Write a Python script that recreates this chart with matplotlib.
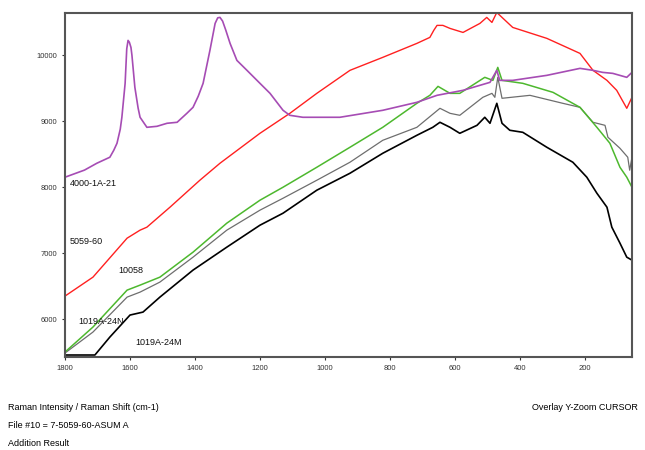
import matplotlib
matplotlib.use("Agg")
import matplotlib.pyplot as plt

plt.rcParams["font.family"] = ["Liberation Sans", "DejaVu Sans"]

# ── Spectra (Raman shift cm-1, intensity) ───────────────────────────
purple_x = [1800, 1740, 1702, 1662, 1650, 1640, 1630, 1625, 1615, 1610, 1606, 1602,
            1597, 1594, 1585, 1575, 1569, 1548, 1517, 1486, 1455, 1425, 1406, 1390,
            1375, 1354, 1338, 1330, 1323, 1315, 1305, 1292, 1271, 1240, 1200, 1169,
            1129, 1108, 1068, 954, 822, 717, 655, 575, 492, 471, 462, 422, 317, 215,
            175, 145, 114, 71, 55]
purple_y = [8152, 8260, 8364, 8455, 8560, 8667, 8880, 9061, 9576, 10100, 10227, 10200,
            10120, 10000, 9515, 9200, 9061, 8909, 8924, 8970, 8985, 9121, 9212, 9380,
            9576, 10076, 10485, 10570, 10576, 10520, 10380, 10182, 9924, 9773, 9576, 9424,
            9167, 9091, 9061, 9061, 9167, 9288, 9394, 9470, 9591, 9773, 9621, 9621,
            9697, 9803, 9773, 9742, 9727, 9667, 9742]

red_x = [1800, 1714, 1609, 1569, 1548, 1477, 1385, 1323, 1200, 1108, 1025, 923, 822,
         717, 677, 665, 655, 637, 615, 575, 523, 502, 486, 471, 455, 422, 317, 215,
         175, 132, 102, 71, 55]
red_y = [6349, 6636, 7227, 7349, 7394, 7697, 8106, 8364, 8818, 9121, 9424, 9773, 9970,
         10182, 10273, 10380, 10455, 10455, 10409, 10348, 10485, 10576, 10500, 10651,
         10576, 10424, 10258, 10030, 9773, 9621, 9470, 9197, 9364]

green_x = [1800, 1714, 1609, 1569, 1508, 1406, 1302, 1200, 1129, 1025, 923, 822, 717,
           677, 652, 615, 585, 508, 483, 468, 455, 391, 298, 215, 163, 123, 92, 71, 55]
green_y = [5500, 5879, 6439, 6515, 6636, 7015, 7455, 7803, 8000, 8303, 8606, 8909, 9273,
           9394, 9530, 9424, 9424, 9667, 9621, 9818, 9621, 9576, 9439, 9212, 8909, 8667,
           8303, 8152, 8000]

gray_x = [1800, 1714, 1609, 1569, 1508, 1406, 1302, 1200, 1129, 1025, 923, 822, 717,
          646, 615, 585, 514, 486, 477, 468, 455, 369, 268, 215, 175, 138, 129, 92,
          68, 62, 55]
gray_y = [5485, 5803, 6333, 6409, 6561, 6939, 7349, 7652, 7833, 8106, 8379, 8712, 8909,
          9197, 9121, 9091, 9364, 9424, 9364, 9667, 9349, 9394, 9273, 9212, 8985, 8939,
          8758, 8591, 8455, 8258, 8455]

black_x = [1800, 1708, 1662, 1600, 1560, 1508, 1406, 1302, 1200, 1129, 1025, 923, 822,
           717, 668, 646, 615, 585, 532, 508, 492, 471, 455, 431, 391, 317, 237, 194,
           163, 132, 117, 92, 71, 55]
black_y = [5455, 5455, 5727, 6061, 6106, 6333, 6743, 7091, 7424, 7606, 7955, 8212, 8515,
           8788, 8909, 8985, 8909, 8818, 8939, 9061, 8970, 9273, 8970, 8864, 8833, 8606,
           8379, 8152, 7909, 7697, 7394, 7152, 6939, 6894]

series_names = ["4000-1A-21", "5059-60", "10058", "1019A-24N", "1019A-24M"]
label_x = [1785, 1785, 1637, 1760, 1585]
label_y = [8060, 7170, 6740, 5970, 5640]

x_ticks = [1800, 1600, 1400, 1200, 1000, 800, 600, 400, 200]
y_ticks = [6000, 7000, 8000, 9000, 10000]

# ── Figure ────────────────────────────────────────────────────────
fig = plt.figure(figsize=(6.45, 4.5), dpi=100)
ax = fig.add_axes([0.1008, 0.2067, 0.879, 0.764])

ax.plot(black_x, black_y, color="black", lw=1.2)
ax.plot(gray_x, gray_y, color="#6e6e6e", lw=0.9)
ax.plot(green_x, green_y, color="#4db82e", lw=1.1)
ax.plot(red_x, red_y, color="#ff2020", lw=1.0)
ax.plot(purple_x, purple_y, color="#a64cb4", lw=1.2)

for name, lx, ly in zip(series_names, label_x, label_y):
    ax.text(lx, ly, name, fontsize=6.5, ha="left", va="center", color="#111111")

ax.set_xlim(1800, 55)
ax.set_ylim(5425, 10640)
ax.set_xticks(x_ticks)
ax.set_yticks(y_ticks)
ax.tick_params(labelsize=5.5, length=2.5, width=0.8, colors="#333333", pad=3)
for s in ax.spines.values():
    s.set_color("#555555")
    s.set_linewidth(1.5)

fig.text(8 / 645, 1 - 407 / 450, "Raman Intensity / Raman Shift (cm-1)",
         fontsize=6.5, va="center", ha="left")
fig.text(638 / 645, 1 - 407 / 450, "Overlay Y-Zoom CURSOR",
         fontsize=6.5, va="center", ha="right")
fig.text(8 / 645, 1 - 425 / 450, "File #10 = 7-5059-60-ASUM A",
         fontsize=6.5, va="center", ha="left")
fig.text(8 / 645, 1 - 443 / 450, "Addition Result",
         fontsize=6.5, va="center", ha="left")

fig.savefig("out.png", dpi=100)
